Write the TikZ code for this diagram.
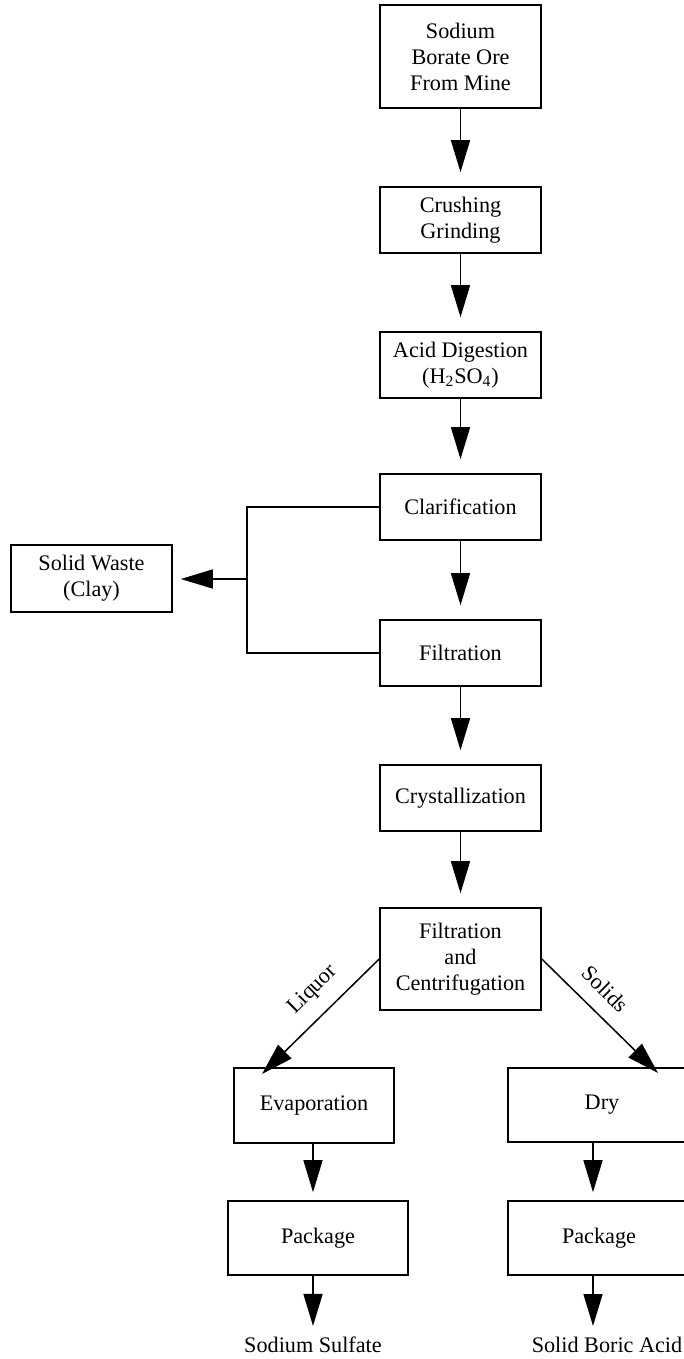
\documentclass[tikz,border=0pt]{standalone}
\usepackage{fontspec}
\setmainfont{Liberation Serif}
\usetikzlibrary{arrows.meta}

\tikzset{
  proc/.style={draw, line width=0.8pt, align=center, inner sep=2pt,
               font=\fontsize{11.1}{13}\selectfont},
  lbl/.style={inner sep=0pt, font=\fontsize{11.1}{13}\selectfont},
  flow/.style={line width=0.75pt, -{Triangle[length=16pt,width=9.5pt]}},
  link/.style={line width=0.75pt},
}

\begin{document}
\begin{tikzpicture}[x=0.5pt, y=-0.5pt]
\useasboundingbox (0,0) rectangle (684,1359);
\clip (0,0) rectangle (684,1359);

% main process column
\node[proc, minimum width=80.5pt, minimum height=51.5pt] (ore)   at (460.5,56.5) {Sodium\\Borate Ore\\From Mine};
\node[proc, minimum width=80.5pt, minimum height=33pt]   (crush) at (460.5,220)  {Crushing\\Grinding};
\node[proc, minimum width=80.5pt, minimum height=33pt]   (acid)  at (460.5,365)  {Acid Digestion\\(H\textsubscript{2}SO\textsubscript{4})};
\node[proc, minimum width=80.5pt, minimum height=33pt]   (clar)  at (460.5,507)  {Clarification};
\node[proc, minimum width=80.5pt, minimum height=33pt]   (filt)  at (460.5,653)  {Filtration};
\node[proc, minimum width=80.5pt, minimum height=33pt]   (cryst) at (460.5,798)  {Crystallization};
\node[proc, minimum width=80.5pt, minimum height=51pt]   (fc)    at (460.5,959)  {Filtration\\and\\Centrifugation};

% waste branch
\node[proc, minimum width=80.5pt, minimum height=33.5pt] (waste) at (91.5,578.5) {Solid Waste\\(Clay)};

% product branches
\node[proc, minimum width=80pt, minimum height=37.5pt] (evap) at (314,1105.5) {Evaporation};
\node[proc, minimum width=94pt, minimum height=37pt]   (dry)  at (602,1105)   {\raisebox{2.5pt}{Dry}};
\node[proc, minimum width=90pt, minimum height=37pt]   (pkgL) at (318,1238)   {Package};
\node[proc, minimum width=91pt, minimum height=37pt]   (pkgR) at (599,1238)   {Package};

\node[lbl, anchor=base] (sulf)  at (313,1352) {Sodium Sulfate};
\node[lbl, anchor=base] (boric) at (607,1352) {Solid Boric Acid};

% main column arrows
\foreach \a/\b in {ore/crush, crush/acid, acid/clar, clar/filt, filt/cryst, cryst/fc}
  \draw[flow, shorten >=7pt] (\a.south) -- (\b.north);

% clay collection from clarification and filtration
\coordinate (jt) at (247,507);
\coordinate (jb) at (247,653);
\coordinate (jm) at (247,579);
\draw[link] (clar.west) -- (jt) -- (jb) -- (filt.west);
\draw[flow, shorten >=4pt] (jm) -- (jm -| waste.east);

% liquor / solids split
\coordinate (liqTip) at (262,1074);
\coordinate (solTip) at (658,1073);
\draw[flow] (fc.west) -- (liqTip);
\draw[flow] (fc.east) -- (solTip);
\node[lbl, rotate=45]  (liq) at (313,990) {Liquor};
\node[lbl, rotate=-45] (sol) at (605,989) {Solids};

% product arrows
\draw[flow, shorten >=4pt] (evap.south -| sulf.north) -- (sulf.north |- pkgL.north);
\draw[flow] (pkgL.south -| sulf.north) -- ([yshift=5pt]sulf.north);
\draw[flow, shorten >=4pt] (593,1142) coordinate (dryOut) -- (dryOut |- pkgR.north);
\draw[flow] (593,1275) coordinate (pkgOut) -- (pkgOut |- 0,1326);
\end{tikzpicture}
\end{document}
